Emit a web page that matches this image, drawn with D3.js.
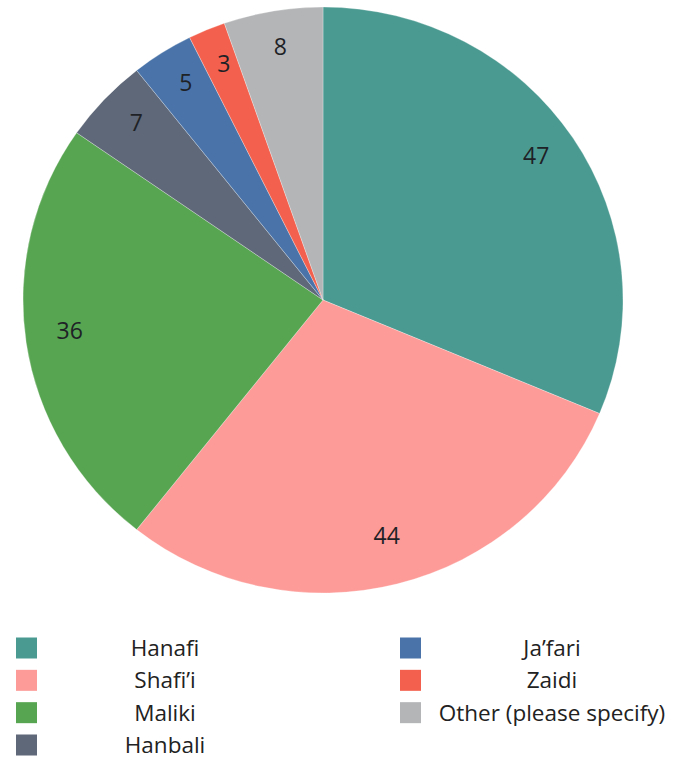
<!DOCTYPE html>
<html>
<head>
<meta charset="utf-8">
<script src="https://cdn.jsdelivr.net/npm/d3@7"></script>
<style>
  html, body { margin: 0; padding: 0; background: #ffffff; }
  svg { display: block; }
</style>
</head>
<body>
<svg id="chart" width="680" height="763"></svg>
<script>
// Schools of jurisprudence and response counts
const categories = ["Hanafi", "Shafi\u2019i", "Maliki", "Hanbali", "Ja\u2019fari", "Zaidi", "Other (please specify)"];
const counts = [47, 44, 36, 7, 5, 3, 8];
const colors = ["#4b9a91", "#fd9b98", "#57a451", "#5e6878", "#4a74a9", "#f3604d", "#b4b5b7"];

// Legend layout: two columns
const legendLeft = ["Hanafi", "Shafi\u2019i", "Maliki", "Hanbali"];
const legendRight = ["Ja\u2019fari", "Zaidi", "Other (please specify)"];

const svg = d3.select("#chart");
const cx = 323, cy = 300, rx = 300, ry = 293;

const data = categories.map((c, i) => ({ name: c, value: counts[i], color: colors[i] }));

const pie = d3.pie().value(d => d.value).sort(null);
const arcs = pie(data);
const arc = d3.arc().innerRadius(0).outerRadius(rx);
const labelArc = d3.arc().innerRadius(256).outerRadius(256);

const g = svg.append("g")
  .attr("transform", `translate(${cx},${cy}) scale(1,${ry / rx})`);

g.selectAll("path")
  .data(arcs)
  .join("path")
  .attr("d", arc)
  .attr("fill", d => d.data.color)
  .attr("stroke", "rgba(255,255,255,0.35)")
  .attr("stroke-width", 0.8);

// Value labels (baseline sits on the label point)
svg.append("g")
  .selectAll("text")
  .data(arcs)
  .join("text")
  .attr("x", d => cx + labelArc.centroid(d)[0])
  .attr("y", d => cy + labelArc.centroid(d)[1] * ry / rx + 2)
  .attr("text-anchor", "middle")
  .attr("font-family", "'Open Sans', 'Noto Sans', sans-serif")
  .attr("font-size", 23)
  .attr("fill", "#1e2226")
  .text(d => d.data.value);

// Legend
const colorOf = d3.scaleOrdinal().domain(categories).range(colors);
const rowY = d3.scalePoint().domain(d3.range(4)).range([648, 745]);

function drawLegend(items, swatchX, textX) {
  const lg = svg.append("g");
  const rows = lg.selectAll("g")
    .data(items)
    .join("g")
    .attr("transform", (d, i) => `translate(0,${rowY(i)})`);
  rows.append("rect")
    .attr("x", swatchX)
    .attr("y", -10.5)
    .attr("width", 21)
    .attr("height", 21)
    .attr("fill", d => colorOf(d));
  rows.append("text")
    .attr("x", textX)
    .attr("y", 8)
    .attr("text-anchor", "middle")
    .attr("font-family", "'Open Sans', 'Noto Sans', sans-serif")
    .attr("font-size", 22.5)
    .attr("fill", "#222222")
    .text(d => d);
}

drawLegend(legendLeft, 16, 165);
drawLegend(legendRight, 400, 552);
</script>
</body>
</html>
